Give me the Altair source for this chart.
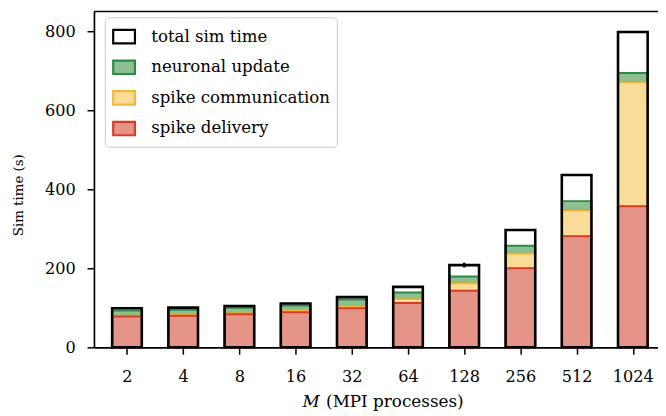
import altair as alt
import pandas as pd

# ---- data ----
M = ["2", "4", "8", "16", "32", "64", "128", "256", "512", "1024"]
delivery = [78, 80, 84, 89, 99, 112, 143, 200, 281, 357]
communication = [2, 2, 2, 3, 5, 10, 19, 37, 65, 314]
update = [13, 13, 14, 14, 17, 17, 17, 20, 24, 23]
total = [99, 100.5, 104.5, 111, 127, 153, 208, 297, 436, 798]
total_err = [0, 0, 0, 0, 0, 0, 6, 0, 0, 0]

SERIES = ["total sim time", "neuronal update", "spike communication", "spike delivery"]
FILLS = ["transparent", "#8ebf93", "#f8dc98", "#e59488"]
STROKES = ["#000000", "#2b8a43", "#f3b83a", "#d63d28"]

rows = []
for i, m in enumerate(M):
    d, c, u = delivery[i], communication[i], update[i]
    rows.append({"i": i, "series": "spike delivery", "y0": 0, "y1": d})
    rows.append({"i": i, "series": "spike communication", "y0": d, "y1": d + c})
    rows.append({"i": i, "series": "neuronal update", "y0": d + c, "y1": d + c + u})
    rows.append({"i": i, "series": "total sim time", "y0": 0, "y1": total[i]})
seg = pd.DataFrame(rows)

err_df = pd.DataFrame({
    "i": list(range(len(M))),
    "lo": [t - e for t, e in zip(total, total_err)],
    "hi": [t + e for t, e in zip(total, total_err)],
    "e": total_err,
})

FONT = "DejaVu Serif"

label_expr = "[" + ",".join("'%s'" % m for m in M) + "][datum.value]"

x_scale = alt.Scale(domain=[-0.5, 9.36], nice=False, zero=False)
x_enc = alt.X(
    "i:Q", scale=x_scale,
    axis=alt.Axis(title=None, values=list(range(len(M))), labelExpr=label_expr,
                  labelPadding=15, grid=False),
)
y_enc = alt.Y(
    "y1:Q",
    scale=alt.Scale(domain=[0, 850], nice=False, zero=True),
    axis=alt.Axis(values=[0, 200, 400, 600, 800], title=None, grid=False, labelPadding=12),
)
legend = alt.Legend(
    title=None, orient="none", legendX=11, legendY=6,
    symbolType="M-1,-0.62H1V0.62H-1Z", symbolSize=484, symbolStrokeWidth=2.2,
    labelFontSize=16.8, labelFont=FONT, labelColor="black", labelOffset=15,
    labelLimit=400, rowPadding=7, padding=7, fillColor="white", strokeColor="#cccccc",
    cornerRadius=4,
)
fill_enc = alt.Fill("series:N", scale=alt.Scale(domain=SERIES, range=FILLS), legend=legend)
stroke_enc = alt.Stroke("series:N", scale=alt.Scale(domain=SERIES, range=STROKES), legend=legend)

base = alt.Chart(seg)


def seg_layer(name, sw):
    return base.transform_filter(alt.datum.series == name).mark_bar(
        size=30, strokeWidth=sw
    ).encode(x=x_enc, y=y_enc, y2="y0:Q", fill=fill_enc, stroke=stroke_enc)


upd_l = seg_layer("neuronal update", 2)
com_l = seg_layer("spike communication", 2)
del_l = seg_layer("spike delivery", 2)
tot_l = seg_layer("total sim time", 2.6)

err_l = alt.Chart(err_df).transform_filter(alt.datum.e > 0).mark_rule(
    color="black", strokeWidth=2.6
).encode(x=alt.X("i:Q", scale=x_scale), y="lo:Q", y2="hi:Q")

one = alt.Data(values=[{}])
top_frame = alt.Chart(one).mark_rule(color="black", strokeWidth=1.7).encode(
    x=alt.value(0), x2=alt.value(571), y=alt.value(0)
)
t_y = alt.Chart(one).mark_text(
    font=FONT, fontSize=13.5, angle=270, align="center", baseline="middle", color="black"
).encode(x=alt.value(-76), y=alt.value(186), text=alt.value("Sim time (s)"))
t_m = alt.Chart(one).mark_text(
    font=FONT, fontSize=17, fontStyle="italic", align="left", baseline="alphabetic", color="black"
).encode(x=alt.value(211), y=alt.value(400), text=alt.value("M"))
t_rest = alt.Chart(one).mark_text(
    font=FONT, fontSize=17, align="left", baseline="alphabetic", color="black"
).encode(x=alt.value(235), y=alt.value(400), text=alt.value("(MPI processes)"))

chart = alt.layer(upd_l, com_l, del_l, tot_l, err_l, top_frame, t_y, t_m, t_rest).properties(
    width=571, height=340,
    autosize=alt.AutoSizeParams(type="none"),
    padding={"left": 87, "top": 1, "right": 0, "bottom": 67},
).configure_view(
    stroke=None
).configure_axis(
    labelFont=FONT, labelFontSize=16.3, labelColor="black",
    domainColor="black", domainWidth=1.7, tickColor="black", tickWidth=1.5, tickSize=7,
)

chart.save("out.html", embed_options={"renderer": "svg", "actions": False})
